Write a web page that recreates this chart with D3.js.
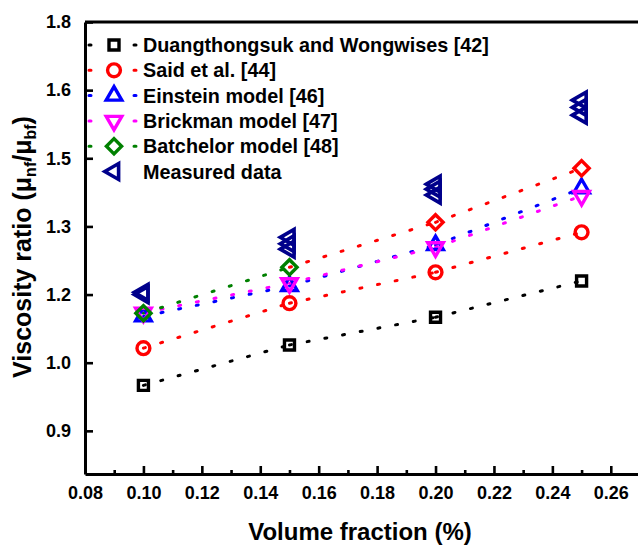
<!DOCTYPE html>
<html lang="en">
<head>
<meta charset="UTF-8">
<title>Viscosity ratio vs volume fraction</title>
<script src="https://cdn.jsdelivr.net/npm/d3@7"></script>
<style>
  body { margin: 0; background: #fff; overflow: hidden; }
  svg { display: block; font-family: "Liberation Sans", Arial, sans-serif; font-weight: bold; }
  .axis text { font-size: 18px; font-weight: bold; fill: #000; font-family: "Liberation Sans", Arial, sans-serif; }
  .axis .domain { stroke: #000; stroke-width: 3; }
  .axis .tick line { stroke: #000; stroke-width: 2.6; }
  .legend text { font-size: 19.8px; fill: #000; }
</style>
</head>
<body>
<div id="chart"></div>
<script>
// data
const volumeFraction = [0.10, 0.15, 0.20, 0.25];
const duangthongsuk = [1.000, 1.089, 1.150, 1.230];
const said = [1.082, 1.181, 1.249, 1.337];
const einstein = [1.152, 1.219, 1.309, 1.434];
const brickman = [1.160, 1.225, 1.304, 1.417];
const batchelor = [1.159, 1.260, 1.359, 1.478];
const measured = [
  [1.205, 1.200],
  [1.326, 1.312, 1.300],
  [1.443, 1.432, 1.419],
  [1.628, 1.612, 1.595]
];

const seriesNames = [
  "Duangthongsuk and Wongwises [42]",
  "Said et al. [44]",
  "Einstein model [46]",
  "Brickman model [47]",
  "Batchelor model [48]",
  "Measured data"
];

const xTicks = [0.08, 0.10, 0.12, 0.14, 0.16, 0.18, 0.20, 0.22, 0.24, 0.26];
const xMinorTicks = [0.09, 0.11, 0.13, 0.15, 0.17, 0.19, 0.21, 0.23, 0.25];
const yTicks = [0.9, 1.05, 1.2, 1.35, 1.5, 1.65, 1.8];
const yTickLabels = ["0.9", "1.0", "1.2", "1.3", "1.5", "1.6", "1.8"];

// styles
const GREEN = "#008000", RED = "#ff0000";
const models = [
  { values: duangthongsuk, symbol: "square", color: () => "#000000" },
  { values: said, symbol: "circle", color: () => RED },
  { values: einstein, symbol: "triangleUp", color: () => "#0000ff" },
  { values: brickman, symbol: "triangleDown", color: () => "#ff00ff" },
  // the figure draws the last two Batchelor points in red
  { values: batchelor, symbol: "diamond", color: i => (i < 2 ? GREEN : RED) }
];
const measuredColor = "#00008b";

const width = 638, height = 545;
const svg = d3.select("#chart").append("svg")
  .attr("width", width)
  .attr("height", height);

const x = d3.scaleLinear().domain([0.08, 0.27]).range([85, 640]);
const y = d3.scaleLinear().domain([0.805, 1.8]).range([474, 22]);

function symbolPath(type) {
  switch (type) {
    case "square": return { d: d3.symbol(d3.symbolSquare, 100)(), rot: 0 };
    case "circle": return { d: d3.symbol(d3.symbolCircle, 130)(), rot: 0 };
    case "triangleUp": return { d: d3.symbol(d3.symbolTriangle, 105)(), rot: 0 };
    case "triangleDown": return { d: d3.symbol(d3.symbolTriangle, 105)(), rot: 180 };
    case "diamond": return { d: d3.symbol(d3.symbolSquare, 115)(), rot: 45 };
    case "triangleLeft": return { d: d3.symbol(d3.symbolTriangle, 110)(), rot: -90 };
  }
}

function drawMarker(g, type, cx, cy, color, sw) {
  const s = symbolPath(type);
  g.append("path")
    .attr("d", s.d)
    .attr("transform", `translate(${cx},${cy}) rotate(${s.rot})`)
    .attr("fill", "none")
    .attr("stroke", color)
    .attr("stroke-width", sw)
    .attr("stroke-linejoin", "miter");
}

// axes
const xAxis = svg.append("g").attr("class", "axis")
  .attr("transform", `translate(0,${y.range()[0]})`)
  .call(d3.axisBottom(x).tickValues(xTicks).tickSizeInner(-8).tickSizeOuter(0)
    .tickPadding(12).tickFormat(d3.format(".2f")));
xAxis.selectAll(".tick text").attr("dy", "0.71em").attr("y", 12);

svg.append("g").attr("class", "axis")
  .attr("transform", `translate(0,${y.range()[0]})`)
  .call(d3.axisBottom(x).tickValues(xMinorTicks).tickSizeInner(-4).tickSizeOuter(0).tickFormat(""))
  .select(".domain").remove();

svg.append("g").attr("class", "axis")
  .attr("transform", `translate(${x.range()[0]},0)`)
  .call(d3.axisLeft(y).tickValues(yTicks).tickSizeInner(-8).tickSizeOuter(0)
    .tickPadding(14).tickFormat((d, i) => yTickLabels[i]));

// top frame line
svg.append("line")
  .attr("x1", x.range()[0]).attr("x2", width + 5)
  .attr("y1", y.range()[1]).attr("y2", y.range()[1])
  .attr("stroke", "#000").attr("stroke-width", 3);

// axis titles
svg.append("text")
  .attr("x", 360).attr("y", 540)
  .attr("text-anchor", "middle")
  .attr("font-size", 24)
  .text("Volume fraction (%)");

const yTitle = svg.append("text")
  .attr("transform", "translate(31,247) rotate(-90)")
  .attr("text-anchor", "middle")
  .attr("font-size", 25);
yTitle.append("tspan").text("Viscosity ratio (\u03bc");
yTitle.append("tspan").attr("font-size", 16).attr("dy", 5).text("nf");
yTitle.append("tspan").attr("dy", -5).text("/\u03bc");
yTitle.append("tspan").attr("font-size", 16).attr("dy", 5).text("bf");
yTitle.append("tspan").attr("dy", -5).text(")");

// dotted connecting lines
const plot = svg.append("g");
const line = d3.line().x(d => x(d[0])).y(d => y(d[1]));
models.forEach(m => {
  for (let i = 0; i < m.values.length - 1; i++) {
    plot.append("path")
      .attr("d", line([[volumeFraction[i], m.values[i]], [volumeFraction[i + 1], m.values[i + 1]]]))
      .attr("fill", "none")
      .attr("stroke", m.color(i + 1))
      .attr("stroke-width", 3)
      .attr("stroke-linecap", "round")
      .attr("stroke-dasharray", "2 16");
  }
});

// markers
models.forEach(m => {
  m.values.forEach((v, i) => drawMarker(plot, m.symbol, x(volumeFraction[i]), y(v), m.color(i), 3.4));
});
measured.forEach((reps, i) => {
  reps.forEach(v => drawMarker(plot, "triangleLeft", x(volumeFraction[i]), y(v), measuredColor, 3.6));
});

// legend
const legend = svg.append("g").attr("class", "legend");
seriesNames.forEach((name, i) => {
  const ly = 45 + i * 25.3;
  const m = models[i];
  if (m) {
    legend.append("line")
      .attr("x1", 89).attr("x2", 136).attr("y1", ly).attr("y2", ly)
      .attr("stroke", m.color(0)).attr("stroke-width", 3)
      .attr("stroke-linecap", "round").attr("stroke-dasharray", "2 43");
    drawMarker(legend, m.symbol, 114, ly, m.color(0), 3.4);
  } else {
    drawMarker(legend, "triangleLeft", 114, ly, measuredColor, 3.6);
  }
  legend.append("text")
    .attr("x", 143).attr("y", ly)
    .attr("dy", "0.36em")
    .text(name);
});
</script>
</body>
</html>
